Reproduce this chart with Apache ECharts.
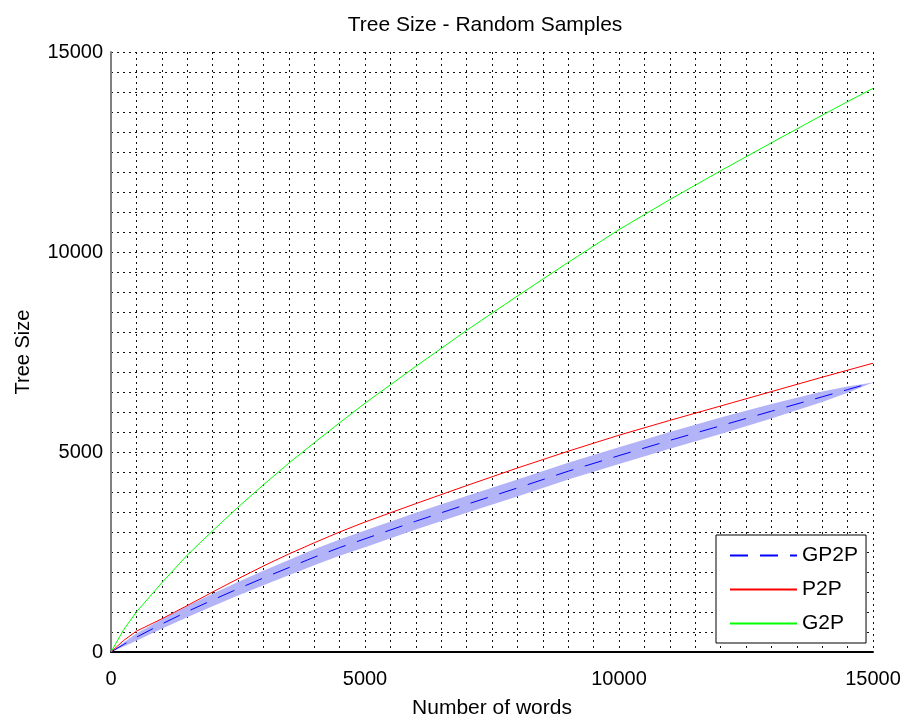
<!DOCTYPE html>
<html>
<head>
<meta charset="utf-8">
<title>Tree Size - Random Samples</title>
<script src="https://cdn.jsdelivr.net/npm/echarts@6/dist/echarts.min.js"></script>
<style>
  html, body { margin: 0; padding: 0; background: #fff; }
  #chart { width: 903px; height: 718px; }
</style>
</head>
<body>
<div id="chart"></div>
<script>
// number of words (x)
const words = [0, 250, 500, 1000, 1500, 2000, 2500, 3000, 3500, 4000, 4500, 5000,
  6000, 7000, 8000, 9000, 10000, 11000, 12000, 13000, 14000, 14500, 15000]

// tree sizes
const gp2p = [0, 190, 370, 700, 1010, 1300, 1580, 1850, 2110, 2370, 2610, 2830,
  3270, 3690, 4100, 4520, 4910, 5290, 5655, 6020, 6380, 6560, 6740]
const gp2pLow = [0, 140, 280, 580, 870, 1145, 1410, 1670, 1920, 2170, 2405, 2620,
  3060, 3480, 3890, 4310, 4700, 5080, 5450, 5840, 6250, 6480, 6740]
const gp2pHigh = [0, 240, 460, 820, 1150, 1455, 1750, 2030, 2300, 2570, 2815, 3040,
  3480, 3900, 4310, 4730, 5120, 5500, 5860, 6200, 6510, 6640, 6740]
const p2p = [0, 290, 520, 830, 1160, 1500, 1830, 2150, 2450, 2730, 3000, 3250,
  3710, 4160, 4600, 5020, 5420, 5790, 6150, 6510, 6870, 7045, 7220]
const g2p = [0, 560, 1000, 1730, 2420, 3030, 3620, 4180, 4720, 5230, 5730, 6220,
  7140, 8040, 8900, 9740, 10560, 11310, 12030, 12730, 13420, 13760, 14090]

const legendNames = ['GP2P', 'P2P', 'G2P']
const labelTicks = [0, 5000, 10000, 15000]

const FONT = 'Liberation Sans, Arial, Helvetica, sans-serif'

const pairs = ys => words.map((x, i) => [x, ys[i]])

const chart = echarts.init(document.getElementById('chart'))

// dotted grid like the original figure
const dotted = { color: '#111', width: 1, type: [2, 4] }

// shaded spread around GP2P, drawn as one polygon through the axes
const renderBand = (params, api) => {
  if (params.dataIndex !== 0) return
  const pts = []
  for (let i = 0; i < words.length; i++) pts.push(api.coord([words[i], gp2pHigh[i]]))
  for (let i = words.length - 1; i >= 0; i--) pts.push(api.coord([words[i], gp2pLow[i]]))
  return {
    type: 'polygon',
    shape: { points: pts },
    style: { fill: '#b3b3f7', stroke: null }
  }
}

const option = {
  animation: false,
  backgroundColor: '#fff',
  textStyle: { fontFamily: FONT },
  graphic: [{
    type: 'text',
    x: 485,
    y: 25,
    style: {
      text: 'Tree Size - Random Samples',
      font: '21px ' + FONT,
      fill: '#000',
      align: 'center',
      verticalAlign: 'middle'
    }
  }],
  grid: { left: 111, right: 30, top: 52, bottom: 66, outerBoundsMode: 'none' },
  legend: {
    data: legendNames,
    orient: 'vertical',
    left: 716,
    top: 535,
    padding: [10, 8, 9, 13],
    itemWidth: 67,
    itemHeight: 18,
    itemGap: 13,
    backgroundColor: '#fff',
    borderColor: '#000',
    borderWidth: 1,
    itemStyle: { opacity: 0 },
    textStyle: { fontSize: 21, color: '#000', fontFamily: FONT }
  },
  xAxis: {
    type: 'value',
    min: 0,
    max: 15000,
    interval: 500,
    name: 'Number of words',
    nameLocation: 'middle',
    nameGap: 46,
    nameTextStyle: { fontSize: 21, color: '#000' },
    axisLine: { lineStyle: { color: '#000', width: 2 } },
    axisTick: { show: false },
    axisLabel: {
      fontSize: 20,
      color: '#000',
      margin: 17,
      formatter: v => labelTicks.includes(v) ? String(v) : ''
    },
    splitLine: { show: true, lineStyle: dotted }
  },
  yAxis: {
    type: 'value',
    min: 0,
    max: 15000,
    interval: 500,
    name: 'Tree Size',
    nameLocation: 'middle',
    nameGap: 78,
    nameRotate: 90,
    nameTextStyle: { fontSize: 20, color: '#000' },
    axisLine: { show: true, lineStyle: { color: '#808080', width: 2 } },
    axisTick: { show: false },
    axisLabel: {
      fontSize: 20,
      color: '#000',
      margin: 8,
      formatter: v => labelTicks.includes(v) ? String(v) : ''
    },
    splitLine: { show: true, lineStyle: dotted }
  },
  series: [
    {
      name: 'band',
      type: 'custom',
      data: words.map((x, i) => [x, gp2pLow[i], gp2pHigh[i]]),
      encode: { x: 0, y: [1, 2] },
      renderItem: renderBand,
      silent: true,
      z: 1
    },
    {
      name: 'GP2P',
      type: 'line',
      data: pairs(gp2p),
      symbol: 'none',
      itemStyle: { color: '#0000ff' },
      lineStyle: { color: '#0000ff', width: 1, type: [18, 12] }
    },
    {
      name: 'P2P',
      type: 'line',
      data: pairs(p2p),
      symbol: 'none',
      itemStyle: { color: '#ff0000' },
      lineStyle: { color: '#ff0000', width: 1 }
    },
    {
      name: 'G2P',
      type: 'line',
      data: pairs(g2p),
      symbol: 'none',
      itemStyle: { color: '#00ff00' },
      lineStyle: { color: '#00ff00', width: 1 }
    }
  ]
}

chart.setOption(option)
</script>
</body>
</html>
